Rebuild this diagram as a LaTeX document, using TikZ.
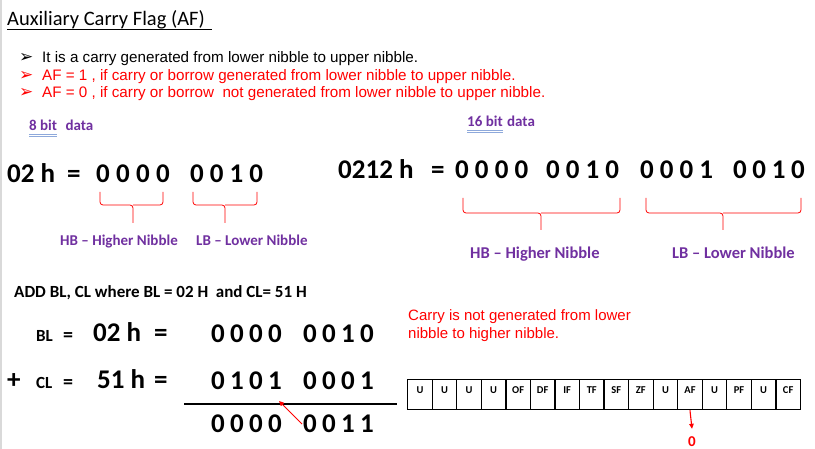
\documentclass[tikz,border=0pt]{standalone}
\usepackage{fontspec}
\setmainfont{Carlito}
\newfontfamily\arialfont{Liberation Sans}
\newfontfamily\symfont{DejaVu Sans}
\usetikzlibrary{calc,arrows.meta,positioning}
\definecolor{nibblepurple}{HTML}{7030A0}
\definecolor{linkblue}{HTML}{8EA9DB}
\definecolor{edgegray}{HTML}{D9D9D9}

\begin{document}
\begin{tikzpicture}[x=1pt,y=-1pt]

  % Parameters
  \def\cellw{24.55}
  \def\cellh{30}

  % Styles
  \tikzstyle{title}=[anchor=base west,inner sep=0pt,font=\fontsize{20.5}{24}\selectfont]
  \tikzstyle{bullet}=[anchor=base west,inner sep=0pt,font=\arialfont\fontsize{15.2}{18}\selectfont]
  \tikzstyle{bulletmark}=[anchor=base west,inner sep=0pt,font=\symfont\fontsize{17}{20}\selectfont]
  \tikzstyle{big}=[anchor=base west,inner sep=0pt,font=\bfseries\fontsize{27}{32}\selectfont]
  \tikzstyle{mid}=[anchor=base west,inner sep=0pt,font=\bfseries\fontsize{17}{20}\selectfont]
  \tikzstyle{digit}=[anchor=base,inner sep=0pt,font=\bfseries\fontsize{27}{32}\selectfont]
  \tikzstyle{nib}=[anchor=base west,inner sep=0pt,text=nibblepurple,font=\bfseries\fontsize{15}{18}\selectfont]
  \tikzstyle{brace}=[draw=red,line width=0.8pt,rounded corners=3pt]
  \tikzstyle{flag}=[draw,line width=1.3pt,minimum width=\cellw,minimum height=\cellh,inner sep=0pt,anchor=north west]
  \tikzstyle{flaglab}=[inner sep=0pt,font=\bfseries\fontsize{10.5}{12}\selectfont]
  \tikzstyle{redarrow}=[draw=red,line width=1.1pt,-{Triangle[length=5pt,width=4.5pt]}]

  % \bits{<name>}{<x>}{<y>}{<digits>}[<pitch>]
  \DeclareDocumentCommand \bits { m m m m O{20} }{%
    \foreach \dval [count=\i from 0] in {#4}
      \node[digit] (#1-\i) at ({#2+\i*#5},#3) {\dval};
  }

  % \nbrace{<x-left>}{<x-right>}{<x-mid>}{<y-top>}{<y-bar>}{<y-tip>}
  \DeclareDocumentCommand \nbrace { m m m m m m }{%
    \draw[brace] (#1,#4) -- (#1,#5) -- (#3,#5) -- (#3,#6);
    \draw[brace] (#2,#4) -- (#2,#5) -- (#3,#5);
  }

  % ===========================================================================

  \useasboundingbox (0,0) rectangle (815,449);
  \fill[white] (0,0) rectangle (815,449);
  \draw[edgegray,line width=1.5pt] (1,0) -- (1,449);

  % Title
  \node[title] (title) at (7,26) {Auxiliary Carry Flag (AF)};
  \draw[line width=0.9pt] ($(title.base west)+(0,3)$) -- ++(205,0);

  % Bullets
  \node[bulletmark] (m1) at (19,63) {➢};
  \node[bulletmark,text=red] (m2) at (19,81) {➢};
  \node[bulletmark,text=red] (m3) at (19,98) {➢};
  \node[bullet] (b1) at (42,63) {It is a carry generated from lower nibble to upper nibble.};
  \node[bullet,text=red] (b2) at (42,81) {AF = 1 , if carry or borrow generated from lower nibble to upper nibble.};
  \node[bullet,text=red] (b3) at (42,98) {AF = 0 , if carry or borrow~ not generated from lower nibble to upper nibble.};

  % 8 bit data
  \node[nib] (bit8) at (29,131) {8 bit};
  \node[nib] (data8) at ($(bit8.base east)+(8,0)$) {data};
  \draw[linkblue,line width=0.8pt] ($(bit8.base west)+(0,3)$) -- ($(bit8.base east)+(0,3)$);
  \draw[linkblue,line width=0.8pt] ($(bit8.base west)+(0,5)$) -- ($(bit8.base east)+(0,5)$);

  \node[big] (h02) at (7,183) {02 h};
  \node[big] (eq02) at (67,183) {=};
  \bits{b8hi}{103}{183}{0,0,0,0}
  \bits{b8lo}{197}{183}{0,0,1,0}[19.7]
  \nbrace{100}{163}{133}{192}{205}{223}
  \nbrace{193}{257}{225}{192}{205}{223}
  \node[nib] (hb8) at (60,246) {HB -- Higher Nibble};
  \node[nib] (lb8) at (196,246) {LB -- Lower Nibble};

  % 16 bit data
  \node[nib] (bit16) at (467,127) {16 bit};
  \node[nib] (data16) at ($(bit16.base east)+(4,0)$) {data};
  \draw[linkblue,line width=0.8pt] ($(bit16.base west)+(0,3)$) -- ($(bit16.base east)+(0,3)$);
  \draw[linkblue,line width=0.8pt] ($(bit16.base west)+(0,5)$) -- ($(bit16.base east)+(0,5)$);

  \node[big] (h0212) at (338,179) {0212 h};
  \node[big] (eq0212) at (431,179) {=};
  \bits{b16a}{462}{179}{0,0,0,0}[19.8]
  \bits{b16b}{553}{179}{0,0,1,0}[19.7]
  \bits{b16c}{647}{179}{0,0,0,1}[19.7]
  \bits{b16d}{740}{179}{0,0,1,0}[19.3]
  \nbrace{463}{620}{541}{198}{213}{230}
  \nbrace{646}{801}{723}{198}{213}{230}
  \node[nib,font=\bfseries\fontsize{16.5}{19}\selectfont] (hb16) at (470,259) {HB -- Higher Nibble};
  \node[nib,font=\bfseries\fontsize{16.5}{19}\selectfont] (lb16) at (672,259) {LB -- Lower Nibble};

  % Addition
  \node[anchor=base west,inner sep=0pt,font=\bfseries\fontsize{17}{20}\selectfont] (add) at (14,298)
    {ADD BL, CL where BL = 02 H~ and CL= 51 H};

  \node[mid] (bl) at (36,342) {BL};
  \node[mid,font=\bfseries\fontsize{20}{24}\selectfont] (eqbl) at (63,342) {=};
  \node[big] (v02) at (93,342) {02 h};
  \node[big] (eqv02) at (154,342) {=};
  \bits{blhi}{218}{343}{0,0,0,0}[19]
  \bits{bllo}{310}{343}{0,0,1,0}[19]

  \node[big] (plus) at (7,389) {+};
  \node[mid] (cl) at (36,389) {CL};
  \node[mid,font=\bfseries\fontsize{20}{24}\selectfont] (eqcl) at (63,389) {=};
  \node[big] (v51) at (97,389) {51 h};
  \node[big] (eqv51) at (154,389) {=};
  \bits{clhi}{218}{390}{0,1,0,1}[19]
  \bits{cllo}{310}{390}{0,0,0,1}[19]

  \draw[line width=1.2pt] (184,404) -- (397,404);

  \bits{sumhi}{218}{432}{0,0,0,0}[19]
  \bits{sumlo}{310}{432}{0,0,1,1}[19]

  \coordinate (carry-tail) at (302,424);
  \coordinate (carry-head) at (279,401);
  \draw[redarrow,line width=1pt] (carry-tail) -- (carry-head);

  \node[bullet,text=red,align=left,anchor=north west,font=\arialfont\fontsize{15}{18}\selectfont] (note) at (408,309)
    {Carry is not generated from lower\\nibble to higher nibble.};

  % Flag register
  \foreach \lab [count=\i from 0] in {U,U,U,U,OF,DF,IF,TF,SF,ZF,U,AF,U,PF,U,CF} {
    \node[flag] (flag-\i) at ({407+\i*\cellw},379) {};
    \node[flaglab] (flaglab-\i) at ($(flag-\i.north)+(0,11)$) {\lab};
  }

  \node[inner sep=0pt,text=red,font=\bfseries\fontsize{15}{18}\selectfont] (af0) at (692,442) {0};
  \draw[redarrow] (flag-11.south) -- ($(af0.north)+(0,-8)$);

\end{tikzpicture}
\end{document}
